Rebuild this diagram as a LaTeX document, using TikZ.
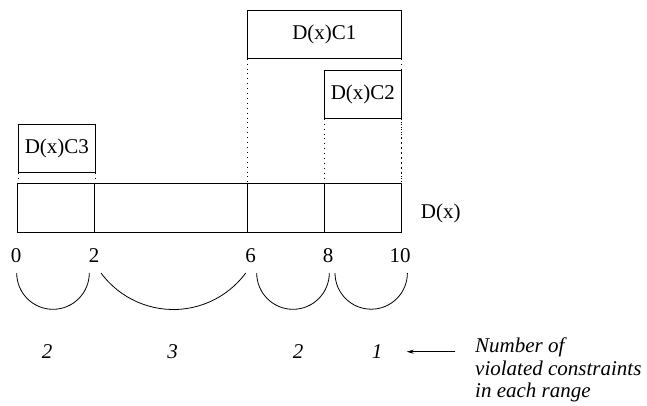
\documentclass[tikz,border=0pt]{standalone}
\usepackage{fontspec}
\setmainfont{Liberation Serif}
\usetikzlibrary{arrows.meta}
\begin{document}
\begin{tikzpicture}[x=1pt,y=1pt,
  box/.style={draw, line width=0.8pt, inner sep=0pt, anchor=north west, font=\fontsize{21}{24}\selectfont},
  lbl/.style={font=\fontsize{21}{24}\selectfont, inner sep=0pt},
  ilbl/.style={font=\fontsize{21}{24}\selectfont\itshape, inner sep=0pt},
  guide/.style={line width=0.8pt, dash pattern=on 0.9pt off 4pt},
  brace/.style={line width=0.8pt}]
\useasboundingbox (0,0) rectangle (647,405);
% bar segments
\node[box, minimum width=77pt, minimum height=49pt] (s1) at (17,222) {};
\node[box, minimum width=153pt, minimum height=49pt] (s2) at (94,222) {};
\node[box, minimum width=77pt, minimum height=49pt] (s3) at (247,222) {};
\node[box, minimum width=77pt, minimum height=49pt] (s4) at (324,222) {};
\node[lbl, anchor=base west] (dx) at (420.7,187) {D(x)};
% constraint boxes
\node[box, minimum width=154pt, minimum height=48pt] (c1) at (247,395) {D(x)C1};
\node[box, minimum width=77pt, minimum height=48pt] (c2) at (324,335) {D(x)C2};
\node[box, minimum width=77pt, minimum height=48pt] (c3) at (18,281) {D(x)C3};
% guides
\draw[guide] (c1.south west) -- (s3.north west);
\draw[guide] (c1.south east) -- (s4.north east);
\draw[guide] (c2.south west) -- (s4.north west);
\draw[guide] (c2.south east) -- (s4.north east);
\draw[guide] (c3.south west) -- (c3.south west |- s1.north);
\draw[guide] (c3.south east) -- (c3.south east |- s1.north);
% tick labels
\node[lbl, anchor=base] (t0) at (16,143) {0};
\node[lbl, anchor=base] (t2) at (94,143) {2};
\node[lbl, anchor=base] (t6) at (250.5,143) {6};
\node[lbl, anchor=base] (t8) at (328,143) {8};
\node[lbl, anchor=base] (t10) at (400,143) {10};
% arcs
\coordinate (a1) at (16.7,132);
\coordinate (a2) at (101,132);
\coordinate (a3) at (256.7,132);
\coordinate (a4) at (335,132);
\draw[brace] (a1) arc[start angle=180, end angle=360, radius=36.3];
\draw[brace] (a2) arc[start angle=216.45, end angle=323.55, radius=89.95];
\draw[brace] (a3) arc[start angle=180, end angle=360, radius=36.3];
\draw[brace] (a4) arc[start angle=180, end angle=360, radius=36.2];
% counts
\node[ilbl, anchor=base] (n1) at (47,47) {2};
\node[ilbl, anchor=base] (n2) at (172.5,47) {3};
\node[ilbl, anchor=base] (n3) at (298,47) {2};
\node[ilbl, anchor=base] (n4) at (377,47) {1};
% explanation
\node[ilbl, anchor=base west] (e1) at (475,53) {Number of};
\node[ilbl, anchor=base west] (e2) at (475,30) {violated constraints};
\node[ilbl, anchor=base west] (e3) at (475,7.3) {in each range};
\coordinate (ae) at (455,53.3);
\coordinate (as) at (406.7,53.3);
\draw[line width=0.8pt, -{Stealth[length=7pt,width=4pt]}] (ae) -- (as);
\end{tikzpicture}
\end{document}
